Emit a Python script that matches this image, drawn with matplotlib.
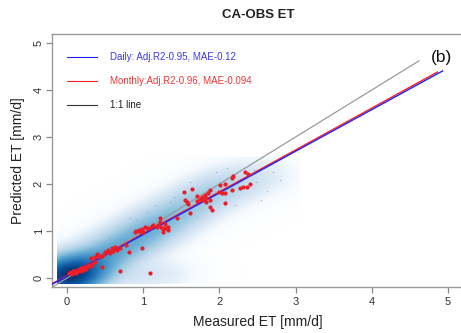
import numpy as np
import matplotlib
matplotlib.use("Agg")
import matplotlib.pyplot as plt
from matplotlib.colors import LinearSegmentedColormap

plt.rcParams['font.family'] = ['Liberation Sans', 'DejaVu Sans']

# Monthly measured vs predicted ET (mm/d)
monthly_x = [0.03, 0.05, 0.06, 0.07, 0.08, 0.09, 0.10, 0.11, 0.12, 0.13, 0.14, 0.15,
             0.16, 0.17, 0.18, 0.19, 0.20, 0.21, 0.22, 0.24, 0.25, 0.27, 0.29, 0.31,
             0.33, 0.12, 0.08, 0.18,
             0.37, 0.32, 0.37, 0.39, 0.41, 0.43, 0.46, 0.48, 0.50, 0.52, 0.54, 0.56,
             0.59, 0.61, 0.63, 0.65, 0.70, 0.78, 0.46, 0.70, 0.81, 0.98, 1.09,
             0.89, 0.91, 0.94, 0.96, 0.98, 1.00, 1.02, 1.05, 1.09, 1.11, 1.13, 1.18,
             1.20, 1.22, 1.22, 1.24, 1.26, 1.26, 1.29, 1.33, 1.33, 1.28,
             1.45, 1.54, 1.64, 1.55, 1.57, 1.59, 1.61, 1.70, 1.71, 1.75, 1.77, 1.81,
             1.83, 1.85, 1.79, 1.83, 1.88, 1.88, 1.90, 1.88,
             2.00, 2.03, 2.07, 2.01, 2.07, 2.16, 2.16, 2.18, 2.07, 2.27, 2.31, 2.36,
             2.40, 2.34, 2.38]
monthly_y = [0.10, 0.12, 0.09, 0.13, 0.11, 0.14, 0.12, 0.16, 0.13, 0.15, 0.18, 0.14,
             0.17, 0.20, 0.16, 0.19, 0.22, 0.18, 0.21, 0.23, 0.20, 0.25, 0.27, 0.26,
             0.30, 0.10, 0.16, 0.22,
             0.35, 0.42, 0.45, 0.52, 0.49, 0.45, 0.47, 0.52, 0.56, 0.55, 0.60, 0.54,
             0.63, 0.58, 0.67, 0.60, 0.64, 0.70, 0.23, 0.16, 0.55, 0.63, 0.11,
             0.97, 1.00, 1.03, 0.99, 1.05, 0.98, 1.08, 1.07, 1.07, 1.10, 1.12, 1.08,
             1.13, 1.20, 1.27, 1.09, 1.04, 0.99, 1.07, 1.08, 1.02, 1.15,
             1.28, 1.84, 1.89, 1.67, 1.62, 1.58, 1.39, 1.64, 1.75, 1.68, 1.73, 1.77,
             1.70, 1.80, 1.66, 1.62, 1.66, 1.52, 1.45, 1.87,
             1.84, 1.81, 1.80, 1.98, 2.00, 1.87, 2.12, 2.16, 1.59, 1.91, 1.93, 1.94,
             2.00, 2.26, 2.21]

# Daily point cloud: ridge of the smoothed density (x, y, relative weight)
daily_x = [-0.10, -0.02, 0.05, 0.12, 0.20, 0.28, 0.36, 0.45, 0.55, 0.65, 0.75,
           0.85, 0.95, 1.05, 1.15, 1.25, 1.35, 1.45, 1.55, 1.65, 1.75, 1.85, 1.95,
           2.05, 2.15, 2.25, 2.35, 2.45, 2.55, 2.65, 2.75,
           0.50, 0.70, 0.90, 1.10, 1.30]
daily_y = [-0.02, 0.03, 0.07, 0.12, 0.18, 0.25, 0.33, 0.42, 0.52, 0.62, 0.71,
           0.80, 0.90, 1.00, 1.10, 1.19, 1.29, 1.39, 1.49, 1.59, 1.68, 1.77, 1.85,
           1.92, 1.99, 2.05, 2.10, 2.14, 2.17, 2.20, 2.22,
           0.10, 0.10, 0.10, 0.10, 0.10]
daily_w = [22.0, 34.0, 34.0, 28.0, 18.0, 10.0, 7.0, 5.5, 4.6, 4.2, 4.0,
           3.9, 3.8, 3.6, 3.2, 2.8, 2.4, 2.1, 1.8, 1.6, 1.4, 1.2, 1.0,
           0.85, 0.7, 0.5, 0.32, 0.2, 0.11, 0.06, 0.03,
           0.5, 0.35, 0.25, 0.25, 0.15]

# Sparse daily points drawn individually in low-density areas
sparse_x = [0.83, 0.91, 1.15, 1.40, 1.62, 1.95, 2.10, 2.45, 2.55, 2.70, 2.80, 2.62,
            0.55, 0.30, 1.70, 2.20, 1.35, 0.65, 2.48, 1.05]
sparse_y = [1.28, 1.23, 1.55, 1.73, 2.05, 2.25, 2.35, 2.30, 1.65, 2.25, 2.09, 1.85,
            0.85, 0.62, 1.30, 1.55, 1.62, 0.35, 2.05, 1.40]

# Regression lines (slope, intercept, x end)
daily_fit = (0.885, 0.042, 4.93)
monthly_fit = (0.890, 0.055, 4.86)
one_to_one_end = 4.62

legend_labels = ["Daily: Adj.R2-0.95, MAE-0.12",
                 "Monthly:Adj.R2-0.96, MAE-0.094",
                 "1:1 line"]
legend_colors = ["#3a3ae8", "#e8383a", "#222222"]
line_colors = ["#2020ff", "#ff2020", "#9a9a9a"]

fig = plt.figure(figsize=(4.61, 3.33), dpi=100)
ax = fig.add_axes([52 / 461, 46 / 333, 412 / 461, 253 / 333])
xlim = (-0.197, 5.21)
ylim = (-0.19, 5.19)

# Smoothed density image of the daily data
ext = (-0.13, 3.05, -0.12, 2.6)
gx = np.linspace(ext[0], ext[1], 320)
gy = np.linspace(ext[2], ext[3], 270)
GX, GY = np.meshgrid(gx, gy)
dens = np.zeros_like(GX)
sig = 0.18
for cx, cy, w in zip(daily_x, daily_y, daily_w):
    dens += w * np.exp(-((GX - cx) ** 2 + (GY - cy) ** 2) / (2 * sig ** 2))
dens = (dens / dens.max()) ** 0.25
blues9 = ["#FFFFFF", "#F7FBFF", "#DEEBF7", "#C6DBEF", "#9ECAE1", "#6BAED6",
          "#4292C6", "#2171B5", "#08519C", "#08306B"]
cmap = LinearSegmentedColormap.from_list("blues", blues9)
ax.imshow(dens, origin="lower", extent=ext, cmap=cmap, aspect="auto",
          interpolation="bilinear", zorder=1)

ax.scatter(sparse_x, sparse_y, s=1.0, c="#7f8fa0", alpha=0.6, lw=0, zorder=2)

# 1:1 and fitted lines
xs = np.array([xlim[0], one_to_one_end])
ax.plot(xs, xs, color=line_colors[2], lw=0.9, zorder=3)
for (m, b, xe), col in zip([monthly_fit, daily_fit], [line_colors[1], line_colors[0]]):
    xx = np.array([xlim[0], xe])
    ax.plot(xx, m * xx + b, color=col, lw=1.0, zorder=4)

ax.scatter(monthly_x, monthly_y, s=9, c="#ee1c24", lw=0, zorder=5)

ax.set_xlim(*xlim)
ax.set_ylim(*ylim)
ax.set_xticks(range(6))
ax.set_yticks(range(6))
ax.tick_params(axis="both", colors="#888888", labelcolor="#333333",
               labelsize=8, length=4, width=0.9, direction="out", pad=3)
ax.tick_params(axis="y", pad=2)
for lab in ax.get_yticklabels():
    lab.set_rotation(90)
    lab.set_va("center")
for s in ["left", "bottom", "top"]:
    ax.spines[s].set_color("#999999")
    ax.spines[s].set_linewidth(1.0)
ax.spines["right"].set_visible(False)

ax.set_xlabel("Measured ET [mm/d]", fontsize=10, color="#222222", labelpad=6)
ax.set_ylabel("Predicted ET [mm/d]", fontsize=10, color="#222222", labelpad=6)
fig.text(258 / 461, 1 - 15 / 333, "CA-OBS ET", ha="center", va="center",
         fontsize=9.5, fontweight="bold", color="#222222")

# Legend without frame
leg_y = [4.7, 4.2, 3.68]
for yy, lab, tc, lc in zip(leg_y, legend_labels, legend_colors,
                           [line_colors[0], line_colors[1], "#333333"]):
    ax.plot([0.0, 0.4], [yy, yy], color=lc, lw=0.8)
    ax.text(0.57, yy, lab, color=tc, fontsize=7, va="center", ha="left")

ax.text(4.91, 4.7, "(b)", fontsize=12.5, ha="center", va="center", color="#111111")

fig.savefig("out.png", dpi=100)
